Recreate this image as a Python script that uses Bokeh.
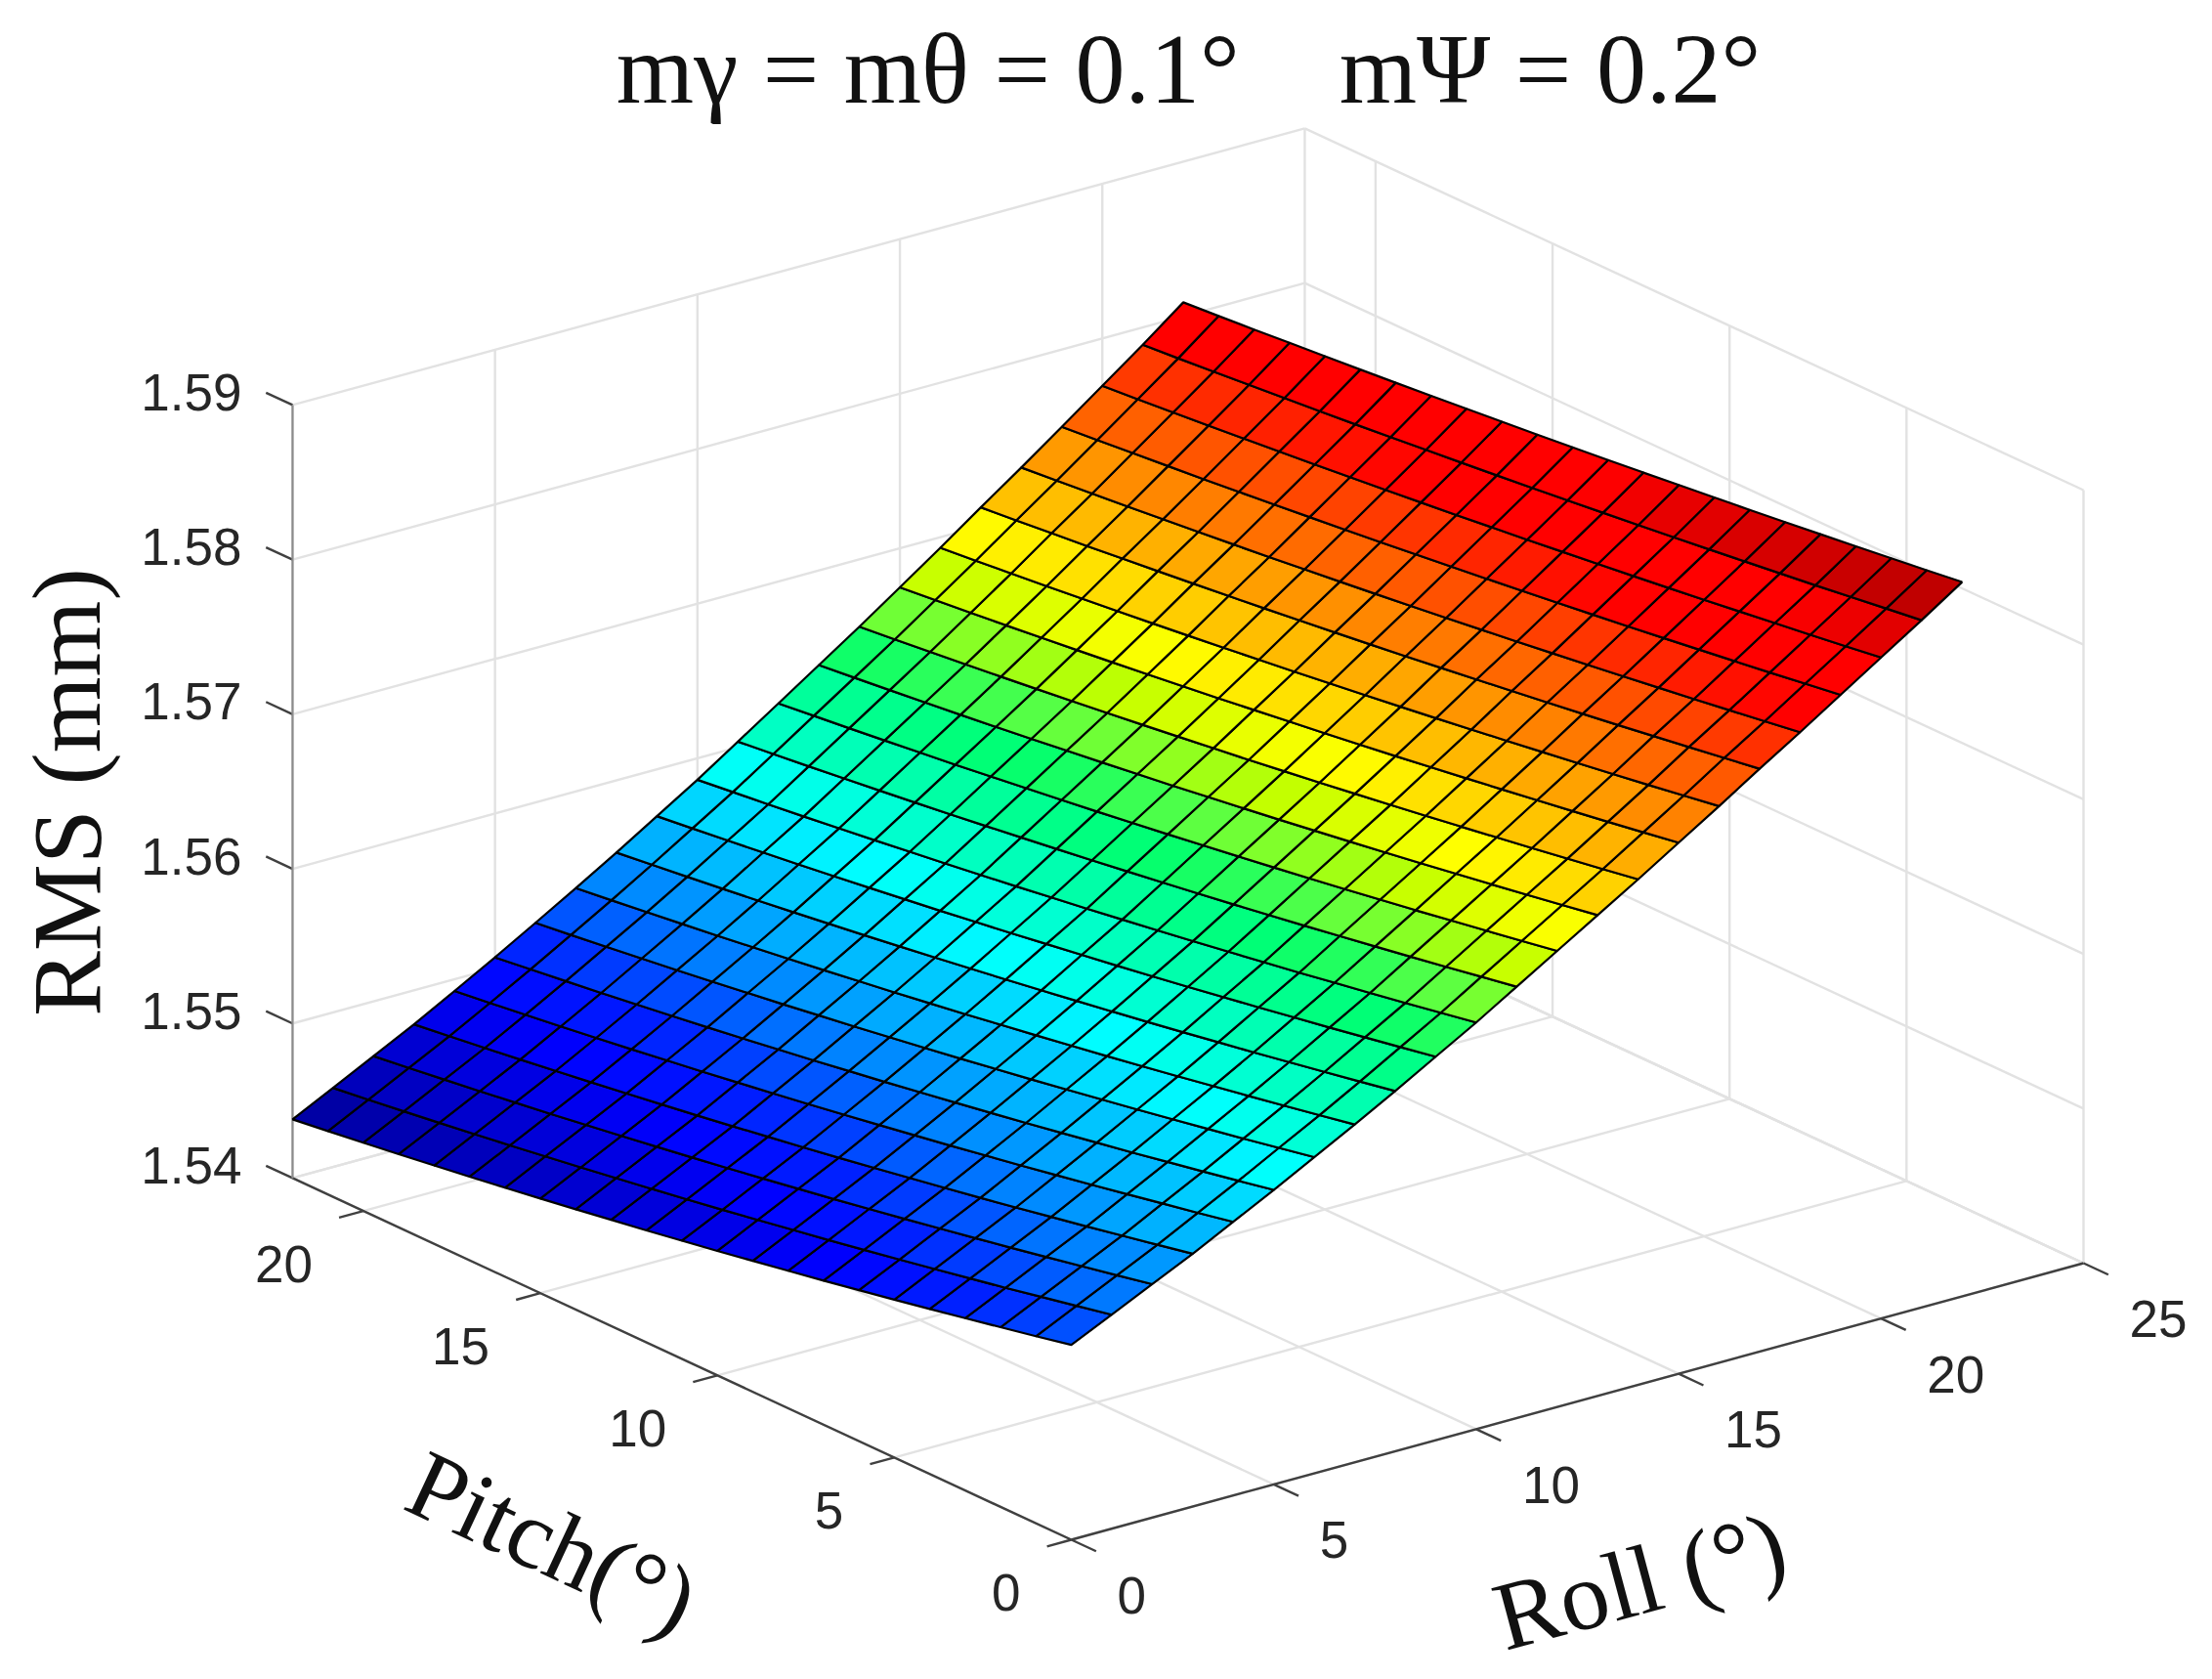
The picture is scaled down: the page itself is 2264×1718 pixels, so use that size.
import numpy as np
from bokeh.plotting import figure
from bokeh.models import ColumnDataSource, Range1d, LinearColorMapper
from bokeh.core.properties import value
from bokeh.embed import file_html
from bokeh.resources import INLINE

# ---------------- data ----------------
title_text = "mγ = mθ = 0.1°\u00a0\u00a0\u00a0\u00a0mΨ = 0.2°"
z_label = "RMS (mm)"
pitch_label = "Pitch(°)"
roll_label = "Roll (°)"
roll_ticks = [0, 5, 10, 15, 20, 25]
pitch_ticks = [0, 5, 10, 15, 20]
z_ticks = [1.54, 1.55, 1.56, 1.57, 1.58, 1.59]
roll_limits = [0, 25]
pitch_limits = [0, 22]
z_limits = [1.54, 1.59]
roll_grid = list(range(23))
pitch_grid = list(range(23))
# one row per roll value, one column per pitch value
rms_table = [
[1.55260,1.55210,1.55162,1.55114,1.55067,1.55021,1.54976,1.54932,1.54889,1.54847,1.54805,1.54765,1.54725,1.54687,1.54649,1.54612,1.54576,1.54541,1.54507,1.54474,1.54442,1.54410,1.54380],
[1.55384,1.55335,1.55287,1.55239,1.55193,1.55148,1.55103,1.55059,1.55016,1.54975,1.54934,1.54893,1.54854,1.54816,1.54779,1.54742,1.54707,1.54672,1.54638,1.54605,1.54573,1.54542,1.54512],
[1.55510,1.55461,1.55414,1.55367,1.55321,1.55276,1.55232,1.55188,1.55146,1.55104,1.55064,1.55024,1.54985,1.54947,1.54910,1.54874,1.54839,1.54804,1.54771,1.54738,1.54707,1.54676,1.54646],
[1.55635,1.55587,1.55540,1.55493,1.55448,1.55403,1.55359,1.55317,1.55275,1.55234,1.55193,1.55154,1.55116,1.55078,1.55041,1.55006,1.54971,1.54937,1.54904,1.54871,1.54840,1.54810,1.54780],
[1.55770,1.55722,1.55676,1.55630,1.55585,1.55541,1.55497,1.55455,1.55413,1.55373,1.55333,1.55294,1.55256,1.55219,1.55183,1.55147,1.55113,1.55079,1.55046,1.55014,1.54983,1.54953,1.54924],
[1.55905,1.55858,1.55812,1.55767,1.55722,1.55679,1.55636,1.55594,1.55553,1.55513,1.55474,1.55435,1.55398,1.55361,1.55325,1.55290,1.55256,1.55223,1.55191,1.55159,1.55129,1.55099,1.55070],
[1.56045,1.55999,1.55953,1.55909,1.55865,1.55822,1.55780,1.55739,1.55698,1.55659,1.55620,1.55582,1.55545,1.55509,1.55474,1.55439,1.55406,1.55373,1.55341,1.55310,1.55280,1.55250,1.55222],
[1.56185,1.56139,1.56095,1.56051,1.56008,1.55965,1.55924,1.55883,1.55844,1.55805,1.55767,1.55729,1.55693,1.55657,1.55623,1.55589,1.55556,1.55524,1.55492,1.55462,1.55432,1.55403,1.55375],
[1.56330,1.56285,1.56241,1.56198,1.56155,1.56114,1.56073,1.56033,1.55994,1.55956,1.55918,1.55882,1.55846,1.55811,1.55777,1.55743,1.55711,1.55679,1.55648,1.55618,1.55589,1.55561,1.55533],
[1.56480,1.56436,1.56393,1.56350,1.56309,1.56268,1.56228,1.56188,1.56150,1.56112,1.56076,1.56040,1.56004,1.55970,1.55936,1.55904,1.55872,1.55841,1.55810,1.55781,1.55752,1.55724,1.55697],
[1.56630,1.56587,1.56544,1.56502,1.56462,1.56421,1.56382,1.56344,1.56306,1.56269,1.56233,1.56197,1.56163,1.56129,1.56096,1.56064,1.56033,1.56002,1.55972,1.55943,1.55915,1.55888,1.55861],
[1.56790,1.56748,1.56706,1.56665,1.56625,1.56586,1.56547,1.56509,1.56472,1.56436,1.56401,1.56366,1.56332,1.56299,1.56267,1.56235,1.56204,1.56174,1.56145,1.56117,1.56089,1.56062,1.56036],
[1.56950,1.56908,1.56868,1.56828,1.56788,1.56750,1.56712,1.56675,1.56639,1.56604,1.56569,1.56535,1.56502,1.56469,1.56438,1.56407,1.56377,1.56347,1.56319,1.56291,1.56264,1.56238,1.56212],
[1.57110,1.57069,1.57029,1.56990,1.56952,1.56914,1.56877,1.56841,1.56806,1.56771,1.56737,1.56704,1.56671,1.56640,1.56609,1.56579,1.56549,1.56520,1.56492,1.56465,1.56439,1.56413,1.56388],
[1.57270,1.57230,1.57191,1.57153,1.57116,1.57079,1.57043,1.57007,1.56973,1.56939,1.56906,1.56873,1.56842,1.56811,1.56781,1.56751,1.56722,1.56694,1.56667,1.56640,1.56615,1.56589,1.56565],
[1.57435,1.57396,1.57358,1.57321,1.57285,1.57249,1.57214,1.57179,1.57145,1.57112,1.57080,1.57049,1.57018,1.56987,1.56958,1.56929,1.56901,1.56874,1.56847,1.56821,1.56796,1.56772,1.56748],
[1.57600,1.57562,1.57525,1.57489,1.57454,1.57419,1.57385,1.57351,1.57318,1.57286,1.57255,1.57224,1.57194,1.57165,1.57136,1.57108,1.57081,1.57054,1.57029,1.57003,1.56979,1.56955,1.56932],
[1.57770,1.57734,1.57698,1.57663,1.57628,1.57594,1.57561,1.57529,1.57497,1.57466,1.57435,1.57405,1.57376,1.57348,1.57320,1.57293,1.57267,1.57241,1.57216,1.57191,1.57168,1.57144,1.57122],
[1.57935,1.57900,1.57865,1.57831,1.57798,1.57765,1.57733,1.57702,1.57671,1.57641,1.57611,1.57582,1.57554,1.57527,1.57500,1.57473,1.57448,1.57423,1.57399,1.57375,1.57352,1.57330,1.57308],
[1.58105,1.58071,1.58037,1.58005,1.57973,1.57941,1.57910,1.57880,1.57850,1.57821,1.57793,1.57765,1.57738,1.57711,1.57685,1.57660,1.57635,1.57611,1.57587,1.57565,1.57543,1.57521,1.57500],
[1.58275,1.58242,1.58210,1.58179,1.58148,1.58117,1.58087,1.58058,1.58030,1.58002,1.57974,1.57948,1.57921,1.57896,1.57871,1.57847,1.57823,1.57800,1.57777,1.57755,1.57734,1.57713,1.57693],
[1.58445,1.58414,1.58383,1.58352,1.58323,1.58294,1.58265,1.58237,1.58210,1.58183,1.58157,1.58131,1.58106,1.58082,1.58058,1.58034,1.58011,1.57989,1.57968,1.57947,1.57926,1.57906,1.57887],
[1.58620,1.58590,1.58561,1.58532,1.58504,1.58476,1.58449,1.58423,1.58397,1.58371,1.58346,1.58322,1.58298,1.58275,1.58252,1.58230,1.58208,1.58187,1.58167,1.58147,1.58127,1.58108,1.58090],
]

# ---------------- view of the 3D box ----------------
ORIGIN = (1097.0, 1577.0)
ROLL_DIR = (41.44, -11.32)
PITCH_DIR = (-36.23, -16.82)
Z_SCALE = -15820.0

def proj(roll, pitch, z):
    x = ORIGIN[0] + ROLL_DIR[0] * roll + PITCH_DIR[0] * pitch
    y = ORIGIN[1] + ROLL_DIR[1] * roll + PITCH_DIR[1] * pitch + Z_SCALE * (z - z_limits[0])
    return x, y

def seg(a, b):
    pa, pb = proj(*a), proj(*b)
    return [pa[0], pb[0]], [pa[1], pb[1]]

# palette
stops = [0, .16, .2, .235, .272, .31, .349, .39, .432, .474, .515, .558, .602, .647,
         .69, .736, .781, .827, .875, .94, .965, 1]
cols = ["#00008c", "#0000ff", "#0020ff", "#0050ff", "#0080ff", "#00aaff", "#00ccff", "#00ffff",
        "#00ffcc", "#00ffa0", "#00ff70", "#60ff40", "#c0ff00", "#ffff00",
        "#ffc800", "#ffa000", "#ff6a00", "#ff4000", "#ff0000", "#ff0000", "#dc0000", "#c00000"]
rgb = np.array([[int(c[i:i+2], 16) for i in (1, 3, 5)] for c in cols], dtype=float)
t = np.linspace(0, 1, 256)
palette = ["#%02x%02x%02x" % tuple(int(round(np.interp(u, stops, rgb[:, k]))) for k in range(3)) for u in t]

p = figure(width=2248, height=1702, x_range=Range1d(1, 2249), y_range=Range1d(1704, 2),
           output_backend="svg", toolbar_location=None, min_border=0,
           outline_line_color=None, background_fill_color="white")
p.axis.visible = False
p.grid.visible = False

GRID = "#e2e2e2"
r0, r1 = roll_limits
q0, q1 = pitch_limits
z0, z1 = z_limits

gx, gy = [], []
def add(a, b, X=gx, Y=gy):
    xs, ys = seg(a, b)
    X.append(xs); Y.append(ys)

for r in roll_ticks:
    add((r, q0, z0), (r, q1, z0))          # floor
    add((r, q1, z0), (r, q1, z1))          # wall behind-left
for q in pitch_ticks:
    add((r0, q, z0), (r1, q, z0))          # floor
    add((r1, q, z0), (r1, q, z1))          # wall behind-right
for z in z_ticks:
    add((r0, q1, z), (r1, q1, z))
    add((r1, q0, z), (r1, q1, z))
add((r0, q1, z0), (r1, q1, z0))
add((r1, q0, z0), (r1, q1, z0))
p.multi_line(gx, gy, line_color=GRID, line_width=2.4)

# axis rulers and ticks
ax, ay = [], []
add((r0, q0, z0), (r1, q0, z0), ax, ay)
add((r0, q0, z0), (r0, q1, z0), ax, ay)
for r in roll_ticks:
    add((r, q0, z0), (r, q0 - 0.7, z0), ax, ay)
for q in pitch_ticks:
    add((r0, q, z0), (r0 - 0.6, q, z0), ax, ay)
for z in z_ticks:
    add((r0, q1, z), (r0, q1 + 0.75, z), ax, ay)
p.multi_line(ax, ay, line_color="#404040", line_width=2.4)
vx, vy = seg((r0, q1, z0), (r0, q1, z1))
p.line(vx, vy, line_color="#8c8c8c", line_width=2.2)

# surface
xs, ys, cv = [], [], []
for i in range(len(roll_grid) - 1):
    for j in range(len(pitch_grid) - 1):
        corners = [(i, j), (i + 1, j), (i + 1, j + 1), (i, j + 1)]
        pts = [proj(roll_grid[a], pitch_grid[b], rms_table[a][b]) for a, b in corners]
        xs.append([c[0] for c in pts])
        ys.append([c[1] for c in pts])
        cv.append(rms_table[i + 1][j])
src = ColumnDataSource(dict(xs=xs, ys=ys, rms=cv))
mapper = LinearColorMapper(palette=palette, low=1.5438, high=1.5862)
p.patches("xs", "ys", source=src, fill_color={"field": "rms", "transform": mapper},
          line_color="#000000", line_width=2.2)

# tick labels
SANS = value("Liberation Sans")
SERIF = value("Liberation Serif")
TICK = "#262626"
pts = [proj(r, q0, z0) for r in roll_ticks]
p.text([a[0] for a in pts], [a[1] for a in pts], text=[str(v) for v in roll_ticks],
       text_font=SANS, text_font_size="53px", text_color=TICK, text_align="left",
       text_baseline="middle", x_offset=47, y_offset=57)
pts = [proj(r0, q, z0) for q in pitch_ticks]
p.text([a[0] for a in pts], [a[1] for a in pts], text=[str(v) for v in pitch_ticks],
       text_font=SANS, text_font_size="53px", text_color=TICK, text_align="right",
       text_baseline="middle", x_offset=-52, y_offset=54)
pts = [proj(r0, q1, z) for z in z_ticks]
p.text([a[0] for a in pts], [a[1] for a in pts], text=["%.2f" % v for v in z_ticks],
       text_font=SANS, text_font_size="53px", text_color=TICK, text_align="right",
       text_baseline="middle", x_offset=-52, y_offset=-13)

# titles
def label(x, y, s, angle=0, size="100px"):
    p.text([x], [y], text=[s], text_font=SERIF, text_font_size=size, text_color="#111111",
           text_align="center", text_baseline="middle", angle=angle, angle_units="deg")
label(1217, 72, title_text, size="102px")
label(69, 812, z_label, 90)
label(566, 1580, pitch_label, -25)
label(1679, 1619, roll_label, 15)

open("out.html", "w").write(file_html(p, INLINE))
